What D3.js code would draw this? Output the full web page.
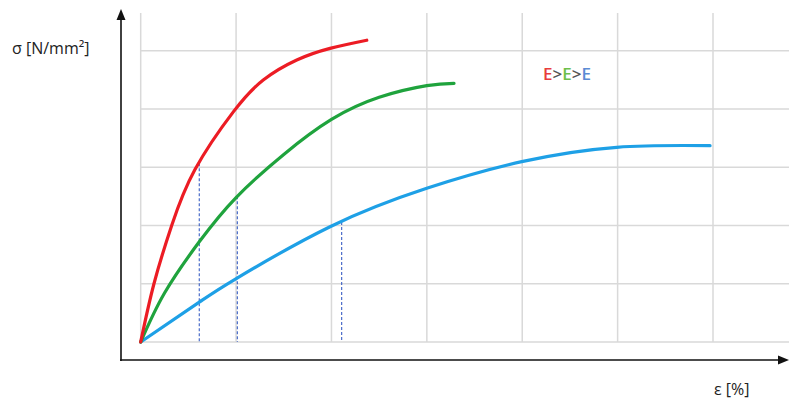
<!DOCTYPE html>
<html>
<head>
<meta charset="utf-8">
<script src="https://cdn.jsdelivr.net/npm/d3@7"></script>
<style>
  html, body { margin: 0; padding: 0; background: #fff; }
  svg { display: block; }
  text { font-family: "Open Sans", "Liberation Sans", sans-serif; }
</style>
</head>
<body>
<svg id="chart" width="789" height="405"></svg>
<script>
// Stress–strain curves for three materials (strain in grid columns, stress in grid rows)
const redCurve = [
  [0, 0], [0.139, 1.0], [0.325, 2.0], [0.569, 2.96], [0.971, 3.95],
  [1.285, 4.497], [1.636, 4.84], [1.985, 5.04], [2.37, 5.18]
];
const greenCurve = [
  [0, 0], [0.25, 0.84], [0.614, 1.72], [1.0, 2.48], [1.5, 3.22],
  [2.0, 3.82], [2.5, 4.2], [3.0, 4.4], [3.285, 4.44]
];
const blueCurve = [
  [0, 0], [0.622, 0.692], [1.006, 1.093], [1.985, 1.979], [2.999, 2.638],
  [3.995, 3.095], [4.991, 3.342], [5.969, 3.37]
];
// Dashed drop lines from each curve down to the strain axis
const dropLines = [
  { x: 0.614, y: 3.07 },
  { x: 1.013, y: 2.50 },
  { x: 2.107, y: 2.06 }
];
const xGridTicks = [0, 1, 2, 3, 4, 5, 6, 7];
const yGridTicks = [0, 1, 2, 3, 4, 5];
const yLabel = "σ [N/mm²]";
const xLabel = "ε [%]";
const legendParts = [
  { t: "E", c: "#e83c3c" },
  { t: ">", c: "#555" },
  { t: "E", c: "#6cbf4a" },
  { t: ">", c: "#555" },
  { t: "E", c: "#5b8bd4" }
];

const svg = d3.select("#chart");

const x = d3.scaleLinear().domain([0, 6]).range([140.7, 713]);
const y = d3.scaleLinear().domain([0, 5]).range([342, 50.7]);

// Grid
const grid = svg.append("g").attr("stroke", "#d9d9d9").attr("stroke-width", 1.5);
grid.selectAll("line.v").data(xGridTicks).join("line")
  .attr("class", "v")
  .attr("x1", d => x(d)).attr("x2", d => x(d))
  .attr("y1", 13).attr("y2", y(0));
grid.selectAll("line.h").data(yGridTicks).join("line")
  .attr("class", "h")
  .attr("x1", x(0)).attr("x2", 789)
  .attr("y1", d => y(d)).attr("y2", d => y(d));

// Axes with arrowheads
const axisG = svg.append("g");
axisG.append("line").attr("x1", 121).attr("x2", 121).attr("y1", 18).attr("y2", 361)
  .attr("stroke", "#111").attr("stroke-width", 1.6);
axisG.append("line").attr("x1", 120).attr("x2", 782).attr("y1", 360).attr("y2", 360)
  .attr("stroke", "#111").attr("stroke-width", 1.6);
axisG.append("path").attr("d", "M121,9 L116.5,20 L125.5,20 Z").attr("fill", "#111");
axisG.append("path").attr("d", "M789,360 L778,355.5 L778,364.5 Z").attr("fill", "#111");

// Drop lines
svg.append("g").selectAll("line").data(dropLines).join("line")
  .attr("x1", d => x(d.x)).attr("x2", d => x(d.x))
  .attr("y1", d => y(d.y)).attr("y2", y(0))
  .attr("stroke", "#3a5fc4").attr("stroke-width", 1.1)
  .attr("stroke-dasharray", "3,2");

// Curves
const line = d3.line().x(d => x(d[0])).y(d => y(d[1])).curve(d3.curveNatural);
[[blueCurve, "#1ea0e6"], [greenCurve, "#1fa33d"], [redCurve, "#ec1c24"]].forEach(([data, color]) => {
  svg.append("path").datum(data)
    .attr("d", line)
    .attr("fill", "none")
    .attr("stroke", color)
    .attr("stroke-width", 3.2)
    .attr("stroke-linecap", "round");
});

// Axis labels
svg.append("text").attr("x", 12).attr("y", 54).attr("font-size", 16).attr("fill", "#222").text(yLabel);
svg.append("text").attr("x", 714).attr("y", 395).attr("font-size", 16).attr("fill", "#222").text(xLabel);

// Legend
const leg = svg.append("text").attr("x", 543).attr("y", 80).attr("font-size", 17).attr("font-weight", "600");
legendParts.forEach(p => leg.append("tspan").attr("fill", p.c).text(p.t));
</script>
</body>
</html>
